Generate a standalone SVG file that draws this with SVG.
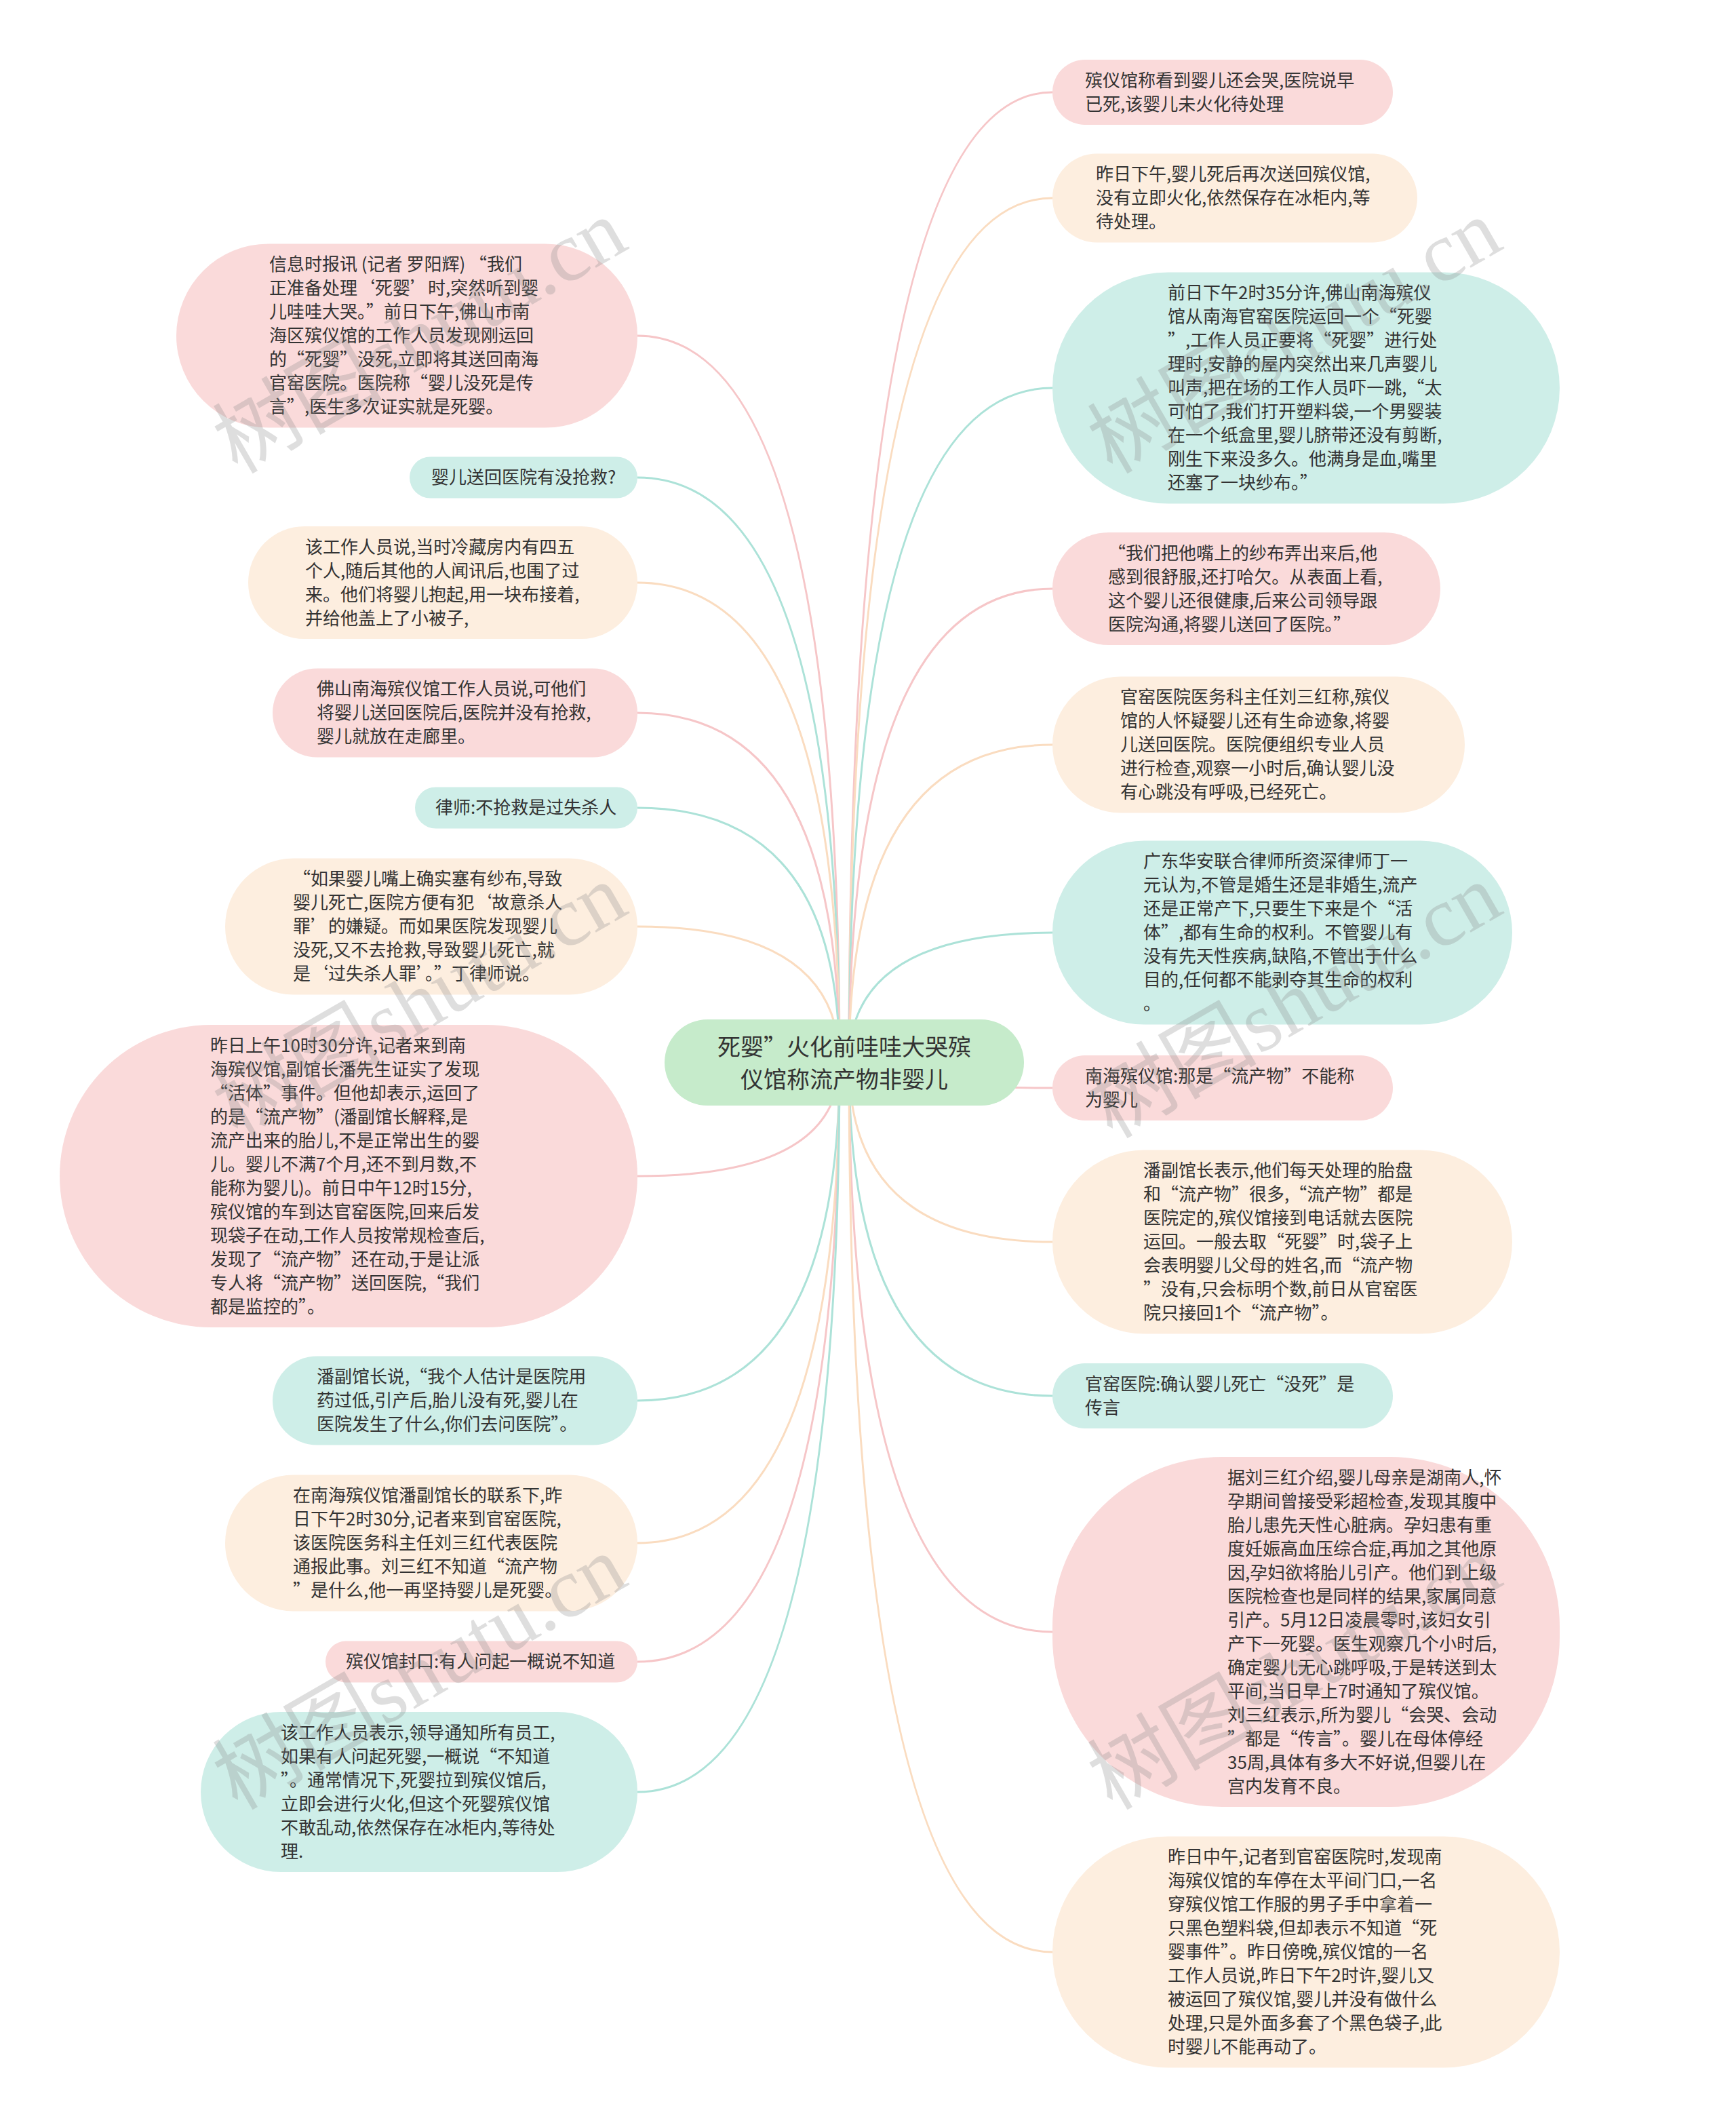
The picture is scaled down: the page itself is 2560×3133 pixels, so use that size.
<svg xmlns="http://www.w3.org/2000/svg" width="2560" height="3133" viewBox="0 0 2560 3133">
<style>
.t{font-family:"Noto Sans CJK SC","Noto Sans",sans-serif;font-size:26px;fill:#333333}
.ct{font-family:"Noto Sans CJK SC","Noto Sans",sans-serif;font-size:34px;fill:#333333;text-anchor:middle}
.pk{fill:#fadada}
.pc{fill:#fdeedf}
.tl{fill:#ceeee8}
.rt{fill:#c6ebcb}
.c{fill:none;stroke-width:3}
.cpk{stroke:#f6c6c8}
.cpc{stroke:#fadcc0}
.ctl{stroke:#ace2d8}
.wm{font-family:"Liberation Serif","Noto Sans CJK SC",serif;font-size:125px;fill:#8a8a8a;fill-opacity:0.28}
</style>
<rect width="2560" height="3133" fill="#ffffff"/>
<g id="connectors">
<path class="c cpk" d="M1252 1567 Q1252 136 1552 136"/>
<path class="c cpc" d="M1252 1567 Q1252 292 1552 292"/>
<path class="c ctl" d="M1252 1567 Q1252 572 1552 572"/>
<path class="c cpk" d="M1252 1567 Q1252 868 1552 868"/>
<path class="c cpc" d="M1252 1567 Q1252 1098 1552 1098"/>
<path class="c ctl" d="M1252 1567 Q1252 1375 1552 1375"/>
<path class="c cpk" d="M1252 1567 Q1252 1604 1552 1604"/>
<path class="c cpc" d="M1252 1567 Q1252 1831 1552 1831"/>
<path class="c ctl" d="M1252 1567 Q1252 2058 1552 2058"/>
<path class="c cpk" d="M1252 1567 Q1252 2406 1552 2406"/>
<path class="c cpc" d="M1252 1567 Q1252 2878 1552 2878"/>
<path class="c cpk" d="M1238 1567 Q1238 495 940 495"/>
<path class="c ctl" d="M1238 1567 Q1238 704 940 704"/>
<path class="c cpc" d="M1238 1567 Q1238 859 940 859"/>
<path class="c cpk" d="M1238 1567 Q1238 1051 940 1051"/>
<path class="c ctl" d="M1238 1567 Q1238 1191 940 1191"/>
<path class="c cpc" d="M1238 1567 Q1238 1366 940 1366"/>
<path class="c cpk" d="M1238 1567 Q1238 1734 940 1734"/>
<path class="c ctl" d="M1238 1567 Q1238 2065 940 2065"/>
<path class="c cpc" d="M1238 1567 Q1238 2275 940 2275"/>
<path class="c cpk" d="M1238 1567 Q1238 2450 940 2450"/>
<path class="c ctl" d="M1238 1567 Q1238 2642 940 2642"/>
</g>
<g id="root">
<rect class="rt" x="980" y="1503" width="530" height="127" rx="63.5"/>
<text class="ct" x="1245" y="1556">死婴”火化前哇哇大哭殡</text>
<text class="ct" x="1245" y="1604">仪馆称流产物非婴儿</text>
</g>
<g id="r1">
<rect class="pk" x="1552" y="88" width="502" height="96" rx="48"/>
<text class="t"><tspan x="1600" y="127.5">殡仪馆称看到婴儿还会哭,医院说早</tspan><tspan x="1600" y="162.5">已死,该婴儿未火化待处理</tspan></text>
</g>
<g id="r2">
<rect class="pc" x="1552" y="226.5" width="538" height="131" rx="65.5"/>
<text class="t"><tspan x="1616" y="266">昨日下午,婴儿死后再次送回殡仪馆,</tspan><tspan x="1616" y="301">没有立即火化,依然保存在冰柜内,等</tspan><tspan x="1616" y="336">待处理。</tspan></text>
</g>
<g id="r3">
<rect class="tl" x="1552" y="401.5" width="748" height="341" rx="170.5"/>
<text class="t"><tspan x="1722" y="441">前日下午2时35分许,佛山南海殡仪</tspan><tspan x="1722" y="476">馆从南海官窑医院运回一个“死婴</tspan><tspan x="1722" y="511">”,工作人员正要将“死婴”进行处</tspan><tspan x="1722" y="546">理时,安静的屋内突然出来几声婴儿</tspan><tspan x="1722" y="581">叫声,把在场的工作人员吓一跳,“太</tspan><tspan x="1722" y="616">可怕了,我们打开塑料袋,一个男婴装</tspan><tspan x="1722" y="651">在一个纸盒里,婴儿脐带还没有剪断,</tspan><tspan x="1722" y="686">刚生下来没多久。他满身是血,嘴里</tspan><tspan x="1722" y="721">还塞了一块纱布。”</tspan></text>
</g>
<g id="r4">
<rect class="pk" x="1552" y="785" width="572" height="166" rx="83"/>
<text class="t"><tspan x="1634" y="824.5">“我们把他嘴上的纱布弄出来后,他</tspan><tspan x="1634" y="859.5">感到很舒服,还打哈欠。从表面上看,</tspan><tspan x="1634" y="894.5">这个婴儿还很健康,后来公司领导跟</tspan><tspan x="1634" y="929.5">医院沟通,将婴儿送回了医院。”</tspan></text>
</g>
<g id="r5">
<rect class="pc" x="1552" y="997.5" width="608" height="201" rx="100.5"/>
<text class="t"><tspan x="1652" y="1037">官窑医院医务科主任刘三红称,殡仪</tspan><tspan x="1652" y="1072">馆的人怀疑婴儿还有生命迹象,将婴</tspan><tspan x="1652" y="1107">儿送回医院。医院便组织专业人员</tspan><tspan x="1652" y="1142">进行检查,观察一小时后,确认婴儿没</tspan><tspan x="1652" y="1177">有心跳没有呼吸,已经死亡。</tspan></text>
</g>
<g id="r6">
<rect class="tl" x="1552" y="1239.5" width="678" height="271" rx="135.5"/>
<text class="t"><tspan x="1686" y="1279">广东华安联合律师所资深律师丁一</tspan><tspan x="1686" y="1314">元认为,不管是婚生还是非婚生,流产</tspan><tspan x="1686" y="1349">还是正常产下,只要生下来是个“活</tspan><tspan x="1686" y="1384">体”,都有生命的权利。不管婴儿有</tspan><tspan x="1686" y="1419">没有先天性疾病,缺陷,不管出于什么</tspan><tspan x="1686" y="1454">目的,任何都不能剥夺其生命的权利</tspan><tspan x="1686" y="1489">。</tspan></text>
</g>
<g id="r7">
<rect class="pk" x="1552" y="1556" width="502" height="96" rx="48"/>
<text class="t"><tspan x="1600" y="1595.5">南海殡仪馆:那是“流产物”不能称</tspan><tspan x="1600" y="1630.5">为婴儿</tspan></text>
</g>
<g id="r8">
<rect class="pc" x="1552" y="1695.5" width="678" height="271" rx="135.5"/>
<text class="t"><tspan x="1686" y="1735">潘副馆长表示,他们每天处理的胎盘</tspan><tspan x="1686" y="1770">和“流产物”很多,“流产物”都是</tspan><tspan x="1686" y="1805">医院定的,殡仪馆接到电话就去医院</tspan><tspan x="1686" y="1840">运回。一般去取“死婴”时,袋子上</tspan><tspan x="1686" y="1875">会表明婴儿父母的姓名,而“流产物</tspan><tspan x="1686" y="1910">”没有,只会标明个数,前日从官窑医</tspan><tspan x="1686" y="1945">院只接回1个“流产物”。</tspan></text>
</g>
<g id="r9">
<rect class="tl" x="1552" y="2010" width="502" height="96" rx="48"/>
<text class="t"><tspan x="1600" y="2049.5">官窑医院:确认婴儿死亡“没死”是</tspan><tspan x="1600" y="2084.5">传言</tspan></text>
</g>
<g id="r10">
<rect class="pk" x="1552" y="2148" width="748" height="516" rx="250"/>
<text class="t"><tspan x="1810" y="2187.5">据刘三红介绍,婴儿母亲是湖南人,怀</tspan><tspan x="1810" y="2222.5">孕期间曾接受彩超检查,发现其腹中</tspan><tspan x="1810" y="2257.5">胎儿患先天性心脏病。孕妇患有重</tspan><tspan x="1810" y="2292.5">度妊娠高血压综合症,再加之其他原</tspan><tspan x="1810" y="2327.5">因,孕妇欲将胎儿引产。他们到上级</tspan><tspan x="1810" y="2362.5">医院检查也是同样的结果,家属同意</tspan><tspan x="1810" y="2397.5">引产。5月12日凌晨零时,该妇女引</tspan><tspan x="1810" y="2432.5">产下一死婴。医生观察几个小时后,</tspan><tspan x="1810" y="2467.5">确定婴儿无心跳呼吸,于是转送到太</tspan><tspan x="1810" y="2502.5">平间,当日早上7时通知了殡仪馆。</tspan><tspan x="1810" y="2537.5">刘三红表示,所为婴儿“会哭、会动</tspan><tspan x="1810" y="2572.5">”都是“传言”。婴儿在母体停经</tspan><tspan x="1810" y="2607.5">35周,具体有多大不好说,但婴儿在</tspan><tspan x="1810" y="2642.5">宫内发育不良。</tspan></text>
</g>
<g id="r11">
<rect class="pc" x="1552" y="2707.5" width="748" height="341" rx="170.5"/>
<text class="t"><tspan x="1722" y="2747">昨日中午,记者到官窑医院时,发现南</tspan><tspan x="1722" y="2782">海殡仪馆的车停在太平间门口,一名</tspan><tspan x="1722" y="2817">穿殡仪馆工作服的男子手中拿着一</tspan><tspan x="1722" y="2852">只黑色塑料袋,但却表示不知道“死</tspan><tspan x="1722" y="2887">婴事件”。昨日傍晚,殡仪馆的一名</tspan><tspan x="1722" y="2922">工作人员说,昨日下午2时许,婴儿又</tspan><tspan x="1722" y="2957">被运回了殡仪馆,婴儿并没有做什么</tspan><tspan x="1722" y="2992">处理,只是外面多套了个黑色袋子,此</tspan><tspan x="1722" y="3027">时婴儿不能再动了。</tspan></text>
</g>
<g id="l1">
<rect class="pk" x="260" y="359.5" width="680" height="271" rx="135.5"/>
<text class="t"><tspan x="397" y="399">信息时报讯 (记者 罗阳辉) “我们</tspan><tspan x="397" y="434">正准备处理‘死婴’时,突然听到婴</tspan><tspan x="397" y="469">儿哇哇大哭。”前日下午,佛山市南</tspan><tspan x="397" y="504">海区殡仪馆的工作人员发现刚运回</tspan><tspan x="397" y="539">的“死婴”没死,立即将其送回南海</tspan><tspan x="397" y="574">官窑医院。医院称“婴儿没死是传</tspan><tspan x="397" y="609">言”,医生多次证实就是死婴。</tspan></text>
</g>
<g id="l2">
<rect class="tl" x="604" y="673.5" width="336" height="61" rx="30.5"/>
<text class="t" x="636" y="713">婴儿送回医院有没抢救?</text>
</g>
<g id="l3">
<rect class="pc" x="366" y="776" width="574" height="166" rx="83"/>
<text class="t"><tspan x="450" y="815.5">该工作人员说,当时冷藏房内有四五</tspan><tspan x="450" y="850.5">个人,随后其他的人闻讯后,也围了过</tspan><tspan x="450" y="885.5">来。他们将婴儿抱起,用一块布接着,</tspan><tspan x="450" y="920.5">并给他盖上了小被子,</tspan></text>
</g>
<g id="l4">
<rect class="pk" x="402" y="985.5" width="538" height="131" rx="65.5"/>
<text class="t"><tspan x="467" y="1025">佛山南海殡仪馆工作人员说,可他们</tspan><tspan x="467" y="1060">将婴儿送回医院后,医院并没有抢救,</tspan><tspan x="467" y="1095">婴儿就放在走廊里。</tspan></text>
</g>
<g id="l5">
<rect class="tl" x="612" y="1160.5" width="328" height="61" rx="30.5"/>
<text class="t" x="642" y="1200">律师:不抢救是过失杀人</text>
</g>
<g id="l6">
<rect class="pc" x="332" y="1265.5" width="608" height="201" rx="100.5"/>
<text class="t"><tspan x="432" y="1305">“如果婴儿嘴上确实塞有纱布,导致</tspan><tspan x="432" y="1340">婴儿死亡,医院方便有犯‘故意杀人</tspan><tspan x="432" y="1375">罪’的嫌疑。而如果医院发现婴儿</tspan><tspan x="432" y="1410">没死,又不去抢救,导致婴儿死亡,就</tspan><tspan x="432" y="1445">是‘过失杀人罪’。”丁律师说。</tspan></text>
</g>
<g id="l7">
<rect class="pk" x="88" y="1511" width="852" height="446" rx="223"/>
<text class="t"><tspan x="310" y="1550.5">昨日上午10时30分许,记者来到南</tspan><tspan x="310" y="1585.5">海殡仪馆,副馆长潘先生证实了发现</tspan><tspan x="310" y="1620.5">“活体”事件。但他却表示,运回了</tspan><tspan x="310" y="1655.5">的是“流产物”(潘副馆长解释,是</tspan><tspan x="310" y="1690.5">流产出来的胎儿,不是正常出生的婴</tspan><tspan x="310" y="1725.5">儿。婴儿不满7个月,还不到月数,不</tspan><tspan x="310" y="1760.5">能称为婴儿)。前日中午12时15分,</tspan><tspan x="310" y="1795.5">殡仪馆的车到达官窑医院,回来后发</tspan><tspan x="310" y="1830.5">现袋子在动,工作人员按常规检查后,</tspan><tspan x="310" y="1865.5">发现了“流产物”还在动,于是让派</tspan><tspan x="310" y="1900.5">专人将“流产物”送回医院,“我们</tspan><tspan x="310" y="1935.5">都是监控的”。</tspan></text>
</g>
<g id="l8">
<rect class="tl" x="402" y="1999.5" width="538" height="131" rx="65.5"/>
<text class="t"><tspan x="467" y="2039">潘副馆长说,“我个人估计是医院用</tspan><tspan x="467" y="2074">药过低,引产后,胎儿没有死,婴儿在</tspan><tspan x="467" y="2109">医院发生了什么,你们去问医院”。</tspan></text>
</g>
<g id="l9">
<rect class="pc" x="332" y="2174.5" width="608" height="201" rx="100.5"/>
<text class="t"><tspan x="432" y="2214">在南海殡仪馆潘副馆长的联系下,昨</tspan><tspan x="432" y="2249">日下午2时30分,记者来到官窑医院,</tspan><tspan x="432" y="2284">该医院医务科主任刘三红代表医院</tspan><tspan x="432" y="2319">通报此事。刘三红不知道“流产物</tspan><tspan x="432" y="2354">”是什么,他一再坚持婴儿是死婴。</tspan></text>
</g>
<g id="l10">
<rect class="pk" x="480" y="2419.5" width="460" height="61" rx="30.5"/>
<text class="t" x="510" y="2459">殡仪馆封口:有人问起一概说不知道</text>
</g>
<g id="l11">
<rect class="tl" x="296" y="2524" width="644" height="236" rx="118"/>
<text class="t"><tspan x="414" y="2563.5">该工作人员表示,领导通知所有员工,</tspan><tspan x="414" y="2598.5">如果有人问起死婴,一概说“不知道</tspan><tspan x="414" y="2633.5">”。通常情况下,死婴拉到殡仪馆后,</tspan><tspan x="414" y="2668.5">立即会进行火化,但这个死婴殡仪馆</tspan><tspan x="414" y="2703.5">不敢乱动,依然保存在冰柜内,等待处</tspan><tspan x="414" y="2738.5">理.</tspan></text>
</g>
<g id="watermarks">
<text class="wm" transform="translate(350 700) rotate(-30)">树图shutu.cn</text>
<text class="wm" transform="translate(1640 700) rotate(-30)">树图shutu.cn</text>
<text class="wm" transform="translate(350 1680) rotate(-30)">树图shutu.cn</text>
<text class="wm" transform="translate(1640 1680) rotate(-30)">树图shutu.cn</text>
<text class="wm" transform="translate(350 2670) rotate(-30)">树图shutu.cn</text>
<text class="wm" transform="translate(1640 2670) rotate(-30)">树图shutu.cn</text>
</g>
</svg>
